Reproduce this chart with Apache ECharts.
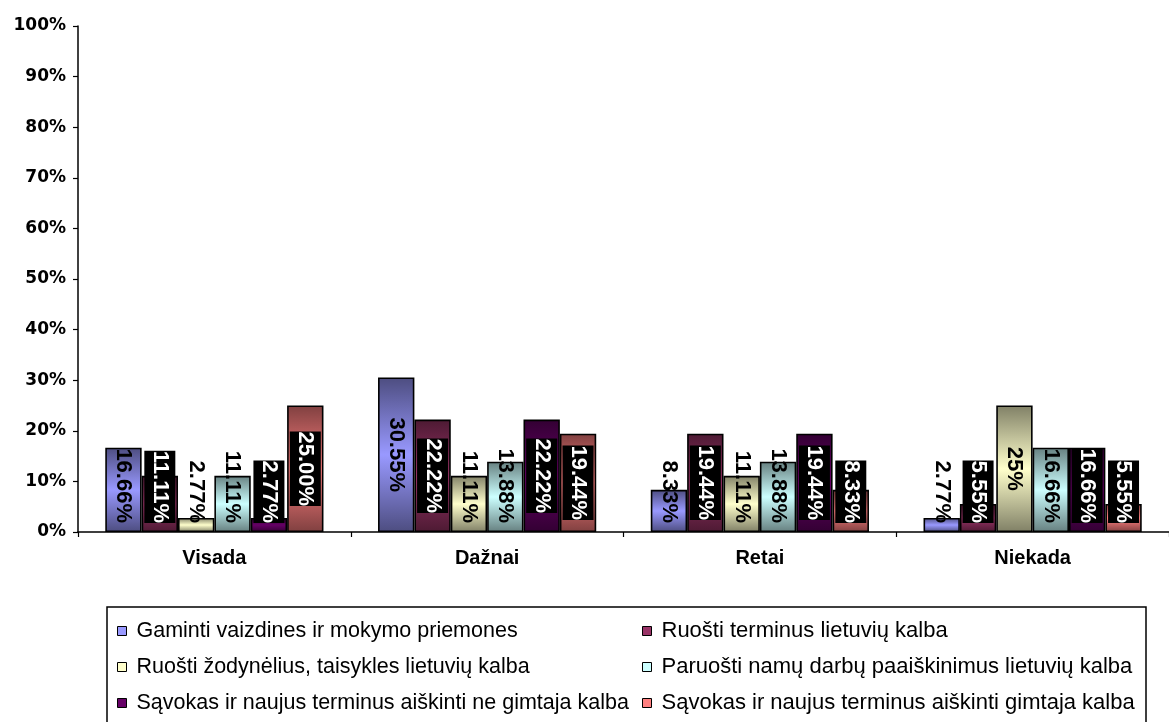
<!DOCTYPE html>
<html>
<head>
<meta charset="utf-8">
<script src="https://cdn.jsdelivr.net/npm/echarts@6/dist/echarts.min.js"></script>
<style>
  html, body { margin: 0; padding: 0; background: #fff; }
  #chart { width: 1169px; height: 722px; }
</style>
</head>
<body>
<div id="chart"></div>
<script>
// Answer categories (x axis)
const categories = ['Visada', 'Dažnai', 'Retai', 'Niekada'];

// Activity names (legend)
const seriesNames = [
  'Gaminti vaizdines ir mokymo priemones',
  'Ruošti terminus lietuvių kalba',
  'Ruošti žodynėlius, taisykles lietuvių kalba',
  'Paruošti namų darbų paaiškinimus lietuvių kalba',
  'Sąvokas ir naujus terminus aiškinti ne gimtaja kalba',
  'Sąvokas ir naujus terminus aiškinti gimtaja kalba'
];

// Shares of respondents, % (one value per category)
const gaminti      = [16.66, 30.55, 8.33, 2.77];
const terminai     = [11.11, 22.22, 19.44, 5.55];
const zodyneliai   = [2.77, 11.11, 11.11, 25];
const namuDarbai   = [11.11, 13.88, 13.88, 16.66];
const neGimtaja    = [2.77, 22.22, 19.44, 16.66];
const gimtaja      = [25.00, 19.44, 8.33, 5.55];

// Decimals printed in each value label
const gamintiDigits    = [2, 2, 2, 2];
const terminaiDigits   = [2, 2, 2, 2];
const zodyneliaiDigits = [2, 2, 2, 0];
const namuDarbaiDigits = [2, 2, 2, 2];
const neGimtajaDigits  = [2, 2, 2, 2];
const gimtajaDigits    = [2, 2, 2, 2];

// Y axis ticks
const yMin = 0, yMax = 100, yStep = 10;

const seriesValues = [gaminti, terminai, zodyneliai, namuDarbai, neGimtaja, gimtaja];
const seriesDigits = [gamintiDigits, terminaiDigits, zodyneliaiDigits, namuDarbaiDigits, neGimtajaDigits, gimtajaDigits];

// Fill styles: [light centre, dark edge]
const palette = [
  ['#9999ff', '#4d4d80'],
  ['#993366', '#4d1a33'],
  ['#ffffcc', '#808066'],
  ['#ccffff', '#668080'],
  ['#660066', '#330033'],
  ['#ff8080', '#804040']
];
// Series whose labels are white on a black box
const boxedLabels = [false, true, false, false, true, true];

const labelFont = '"Liberation Sans", Arial, sans-serif';

function barLabel(value, digits, boxed) {
  const low = value < 17; // short bars: label rests near the bottom
  return {
    show: true,
    rotate: -90,
    position: low ? 'insideBottom' : 'inside',
    distance: 9,
    align: low ? 'right' : 'center',
    verticalAlign: 'middle',
    fontFamily: labelFont,
    fontWeight: 'bold',
    fontSize: 22,
    lineHeight: 24,
    color: boxed ? '#fff' : '#000',
    backgroundColor: boxed ? '#000' : 'transparent',
    padding: boxed ? [4, 0, 3, 0] : 0,
    formatter: value.toFixed(digits) + '%'
  };
}

const series = seriesValues.map((vals, si) => ({
  name: seriesNames[si],
  type: 'bar',
  barGap: '0%',
  barCategoryGap: '20%',
  itemStyle: {
    borderColor: '#000',
    borderWidth: 1.6,
    color: {
      type: 'linear', x: 0, y: 0, x2: 0, y2: 1,
      colorStops: [
        { offset: 0, color: palette[si][1] },
        { offset: 0.5, color: palette[si][0] },
        { offset: 1, color: palette[si][1] }
      ]
    }
  },
  data: vals.map((v, ci) => ({
    value: v,
    label: barLabel(v, seriesDigits[si][ci], boxedLabels[si])
  }))
}));

function legendText(size) {
  return {
    fontFamily: '"Liberation Sans", Arial, sans-serif',
    fontSize: size,
    color: '#000',
    lineHeight: 20,
    padding: [0, 0, 0, 5]
  };
}

function legendItems(indices) {
  return indices.map(i => ({
    name: seriesNames[i],
    icon: 'rect',
    itemStyle: { color: palette[i][0], borderColor: '#000', borderWidth: 1 }
  }));
}

const option = {
  animation: false,
  backgroundColor: '#fff',
  grid: { left: 78, top: 26, width: 1100, height: 506, containLabel: false },
  xAxis: {
    type: 'category',
    data: categories,
    axisLine: { show: true, lineStyle: { color: '#000', width: 1.5 } },
    axisTick: { show: true, length: 5, alignWithLabel: false, lineStyle: { color: '#000', width: 1.2 } },
    axisLabel: {
      margin: 16,
      color: '#000',
      fontFamily: '"Liberation Sans", Arial, sans-serif',
      fontWeight: 'bold',
      fontSize: 20
    },
    splitLine: { show: false }
  },
  yAxis: {
    type: 'value',
    min: yMin,
    max: yMax,
    interval: yStep,
    axisLine: { show: true, lineStyle: { color: '#000', width: 1.5 } },
    axisTick: { show: true, length: 5, inside: false, lineStyle: { color: '#000', width: 1.2 } },
    splitLine: { show: false },
    axisLabel: {
      formatter: '{value}%',
      margin: 12,
      color: '#000',
      fontFamily: '"DejaVu Sans", sans-serif',
      fontWeight: 'bold',
      fontSize: 17
    }
  },
  legend: [
    {
      orient: 'vertical', left: 112, top: 615,
      itemWidth: 9, itemHeight: 9, itemGap: 14,
      selectedMode: false,
      textStyle: legendText(21.5),
      data: legendItems([0, 2, 4])
    },
    {
      orient: 'vertical', left: 637, top: 615,
      itemWidth: 9, itemHeight: 9, itemGap: 14,
      selectedMode: false,
      textStyle: legendText(22),
      data: legendItems([1, 3, 5])
    }
  ],
  graphic: [{
    type: 'rect',
    silent: true,
    z: -1,
    shape: { x: 107, y: 607, width: 1039, height: 130 },
    style: { fill: 'none', stroke: '#000', lineWidth: 1.5 }
  }],
  series: series
};

const chart = echarts.init(document.getElementById('chart'), null, { renderer: 'canvas' });
chart.setOption(option);
</script>
</body>
</html>
